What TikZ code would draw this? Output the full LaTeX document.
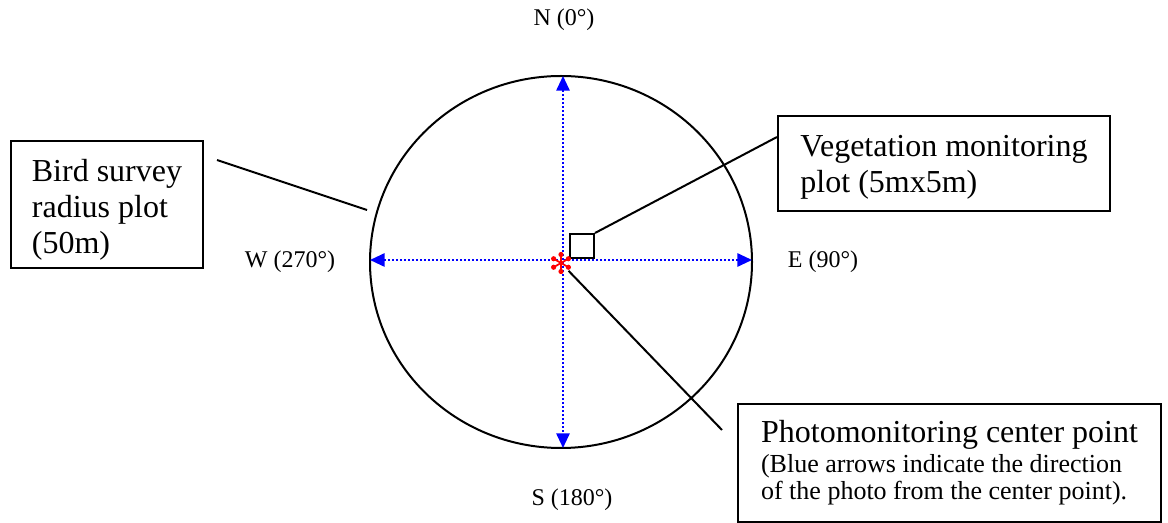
\documentclass[tikz,border=0pt]{standalone}
\usepackage{fontspec}
\setmainfont{Liberation Serif}
\usetikzlibrary{arrows.meta}
\newcommand{\notesmall}{\fontsize{19.5}{22.5}\selectfont}

\begin{document}
\begin{tikzpicture}[x=0.75pt,y=-0.75pt]
\tikzstyle{every node}=[font=\fontsize{18}{21}\selectfont]
\tikzstyle{note}=[draw,line width=1.5pt,align=left,anchor=north west,font=\fontsize{24}{27}\selectfont]
\tikzstyle{compass}=[blue,line width=1.4pt,dash pattern=on 1.4pt off 1.6pt,
  >={Triangle[length=11pt,width=10pt]},<->]
\tikzstyle{pointer}=[line width=1.5pt]
\useasboundingbox (0,0) rectangle (1168,523);
% bird survey radius
\draw[line width=1.5pt] (561,262) ellipse [x radius=191,y radius=186];
\coordinate (n) at (563,76);
\coordinate (s) at (563,448);
\coordinate (w) at (370,260);
\coordinate (e) at (752,260);
\draw[compass] (n) -- (s);
\draw[compass] (w) -- (e);
\node (north) at (564,20) {N (0°)};
\node (south) at (572,500) {S (180°)};
\node (west) at (290,262) {W (270°)};
\node (east) at (823,262) {E (90°)};
% plots
\node[draw,line width=1.5pt,minimum size=18pt,inner sep=0pt,anchor=south west] (quad) at (569,259) {};
\node[circle,inner sep=0pt,minimum size=16pt] (cp) at (561,263) {};
\foreach \a in {30,90,...,330} {
  \draw[red,line width=1.3pt] (cp.center) -- ([shift={(\a:8)}]cp.center);
  \fill[red] ([shift={(\a:8.5)}]cp.center) circle [radius=2.6];
}
% notes
\node[note,minimum width=144pt,minimum height=95.25pt] (bird) at (10,140)
  {\rule{0pt}{24pt}Bird survey\\radius plot\\(50m)};
\node[note,minimum width=249pt,minimum height=71.25pt] (veg) at (777,115)
  {\rule{0pt}{21pt}Vegetation monitoring\\plot (5mx5m)};
\node[note,minimum width=317.25pt,minimum height=88.5pt] (photo) at (737,403)
  {Photomonitoring center point\\[-4.5pt]\notesmall(Blue arrows indicate the direction\\[-6.75pt]\notesmall of the photo from the center point).};
\coordinate (b1) at (217,160);
\coordinate (b2) at (367,210);
\coordinate (v1) at (777,137);
\coordinate (p1) at (722,430);
\draw[pointer] (b1) -- (b2);
\draw[pointer] (quad.north east) -- (v1);
\draw[pointer] (cp) -- (p1);
\end{tikzpicture}
\end{document}
